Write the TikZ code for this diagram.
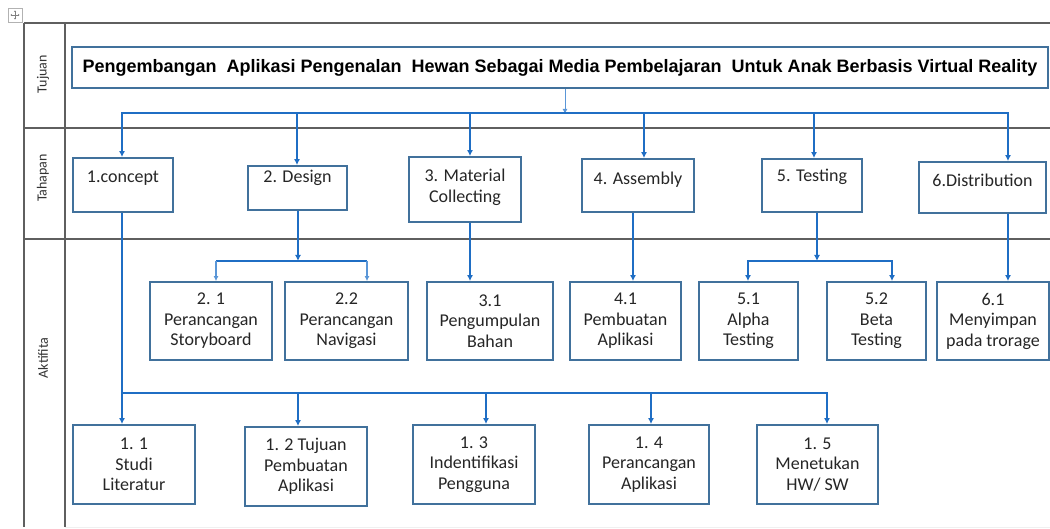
\documentclass[tikz,border=0pt]{standalone}
\usepackage{fontspec}
\setmainfont{Carlito}
\newfontfamily\titlefont{Liberation Sans}
\usetikzlibrary{arrows.meta}
\definecolor{boxblue}{RGB}{65,113,156}
\definecolor{linkblue}{RGB}{31,110,196}
\definecolor{lightlink}{RGB}{90,150,215}
\definecolor{framegray}{RGB}{95,95,95}
\begin{document}
\begin{tikzpicture}[x=1pt,y=-1pt,
  box/.style={draw=boxblue, line width=1.8pt, fill=white, inner sep=0pt},
  boxtext/.style={font=\fontsize{18}{20.5}\selectfont, align=center, text=black!85, inner sep=0pt},
  conn/.style={draw=linkblue, line width=2pt},
  thinconn/.style={draw=lightlink, line width=1.3pt},
  tip/.tip={Latex[length=6pt,width=6pt]},
  smalltip/.tip={Latex[length=5pt,width=5pt]},
  arr/.style={conn, -tip},
  framel/.style={draw=framegray, line width=1.4pt},
  rowlabel/.style={font=\fontsize{14}{15}\selectfont, rotate=90, text=black!80, inner sep=0pt}]
\useasboundingbox (0,0) rectangle (1050,529);
\fill[white] (0,0) rectangle (1050,529);

% table handle
\draw[gray!60, line width=0.6pt] (8,8) rectangle (22,22);
\draw[gray, line width=0.6pt, <->, >={Stealth[length=1.5pt,width=2pt]}] (10.5,15) -- (19.5,15);
\draw[gray, line width=0.6pt, <->, >={Stealth[length=1.5pt,width=2pt]}] (15,10.5) -- (15,19.5);

% frame
\draw[framel] (24,23) -- (1050,23);
\draw[framel] (24,128) -- (1050,128);
\draw[framel] (24,239) -- (1050,239);
\draw[framel] (24,23) -- (24,527);
\draw[framel] (65,23) -- (65,527);
\draw[gray!12, line width=1pt] (65,527) -- (1050,527);

% row labels
\node[rowlabel] (lt) at (43,74) {Tujuan};
\node[rowlabel] (lh) at (43,178) {Tahapan};
\node[rowlabel] (la) at (43,358) {Aktifita};

% title
\node[box, minimum width=976pt, minimum height=41pt,
      font=\titlefont\bfseries\fontsize{18}{20}\selectfont] (title) at (560,67.5)
  {Pengembangan\ \ Aplikasi Pengenalan\ \ Hewan Sebagai Media Pembelajaran\ \ Untuk Anak Berbasis Virtual Reality};

% row 2 boxes
\node[box, minimum width=100pt, minimum height=54pt] (c1) at (123,185) {};
\node[boxtext] (c1t) at (123,178) {1.concept};
\node[box, minimum width=99pt, minimum height=44pt] (c2) at (297.5,188) {};
\node[boxtext] (c2t) at (297.5,178) {2. Design};
\node[box, minimum width=112pt, minimum height=65pt] (c3) at (465,189.5) {};
\node[boxtext] (c3t) at (465,187.5) {3. Material\\Collecting};
\node[box, minimum width=112pt, minimum height=53pt] (c4) at (638,185.5) {};
\node[boxtext] (c4t) at (638,180) {4. Assembly};
\node[box, minimum width=100pt, minimum height=53pt] (c5) at (812,185.5) {};
\node[boxtext] (c5t) at (812,177) {5. Testing};
\node[box, minimum width=127pt, minimum height=51pt] (c6) at (982.5,187.5) {};
\node[boxtext] (c6t) at (982.5,180) {6.Distribution};

% row 3 boxes
\node[box, boxtext, minimum width=122pt, minimum height=78pt] (a21) at (211,321) {2. 1\\Perancangan\\Storyboard};
\node[box, boxtext, minimum width=123pt, minimum height=78pt] (a22) at (346.5,321) {2.2\\Perancangan\\Navigasi};
\node[box, boxtext, minimum width=126pt, minimum height=78pt] (a31) at (490,321) {3.1\\Pengumpulan\\Bahan};
\node[box, boxtext, minimum width=111pt, minimum height=78pt] (a41) at (625.5,321) {4.1\\Pembuatan\\Aplikasi};
\node[box, boxtext, minimum width=99pt, minimum height=78pt] (a51) at (748.5,321) {5.1\\Alpha\\Testing};
\node[box, boxtext, minimum width=99pt, minimum height=78pt] (a52) at (876.5,321) {5.2\\Beta\\Testing};
\node[box, boxtext, minimum width=112pt, minimum height=78pt] (a61) at (993,321) {6.1\\Menyimpan\\pada trorage};

% row 4 boxes
\node[box, boxtext, minimum width=122pt, minimum height=79pt] (a11) at (134,464.5) {1. 1\\Studi\\Literatur};
\node[box, boxtext, minimum width=122pt, minimum height=79pt] (a12) at (306,466.5) {1. 2 Tujuan\\Pembuatan\\Aplikasi};
\node[box, boxtext, minimum width=122pt, minimum height=79pt] (a13) at (474,464.5) {1. 3\\Indentifikasi\\Pengguna};
\node[box, boxtext, minimum width=120pt, minimum height=79pt] (a14) at (649,464.5) {1. 4\\Perancangan\\Aplikasi};
\node[box, boxtext, minimum width=121pt, minimum height=79pt] (a15) at (817.5,464.5) {1. 5\\Menetukan\\HW/ SW};

% title to stages
\coordinate (tin) at (565,113);
\coordinate (t1) at (122,113);
\coordinate (t2) at (297,113);
\coordinate (t3) at (470,113);
\coordinate (t4) at (644,113);
\coordinate (t5) at (814,113);
\coordinate (t6) at (1008,113);
\draw[thinconn, line width=1pt, -smalltip] (tin |- title.south) -- ([yshift=-1pt]tin);
\draw[conn, tip-tip] (t1 |- c1.north) -- (t1) -- (t6) -- (t6 |- c6.north);
\draw[arr] (t2) -- (t2 |- c2.north);
\draw[arr] (t3) -- (t3 |- c3.north);
\draw[arr] (t4) -- (t4 |- c4.north);
\draw[arr] (t5) -- (t5 |- c5.north);

% concept to activities
\coordinate (u1) at (122,393);
\coordinate (u2) at (298,393);
\coordinate (u3) at (486,393);
\coordinate (u4) at (651,393);
\coordinate (u5) at (827,393);
\draw[arr] (u1 |- c1.south) -- (u1 |- a11.north);
\draw[conn, -tip] (u1) -- (u5) -- (u5 |- a15.north);
\draw[arr] (u2) -- (u2 |- a12.north);
\draw[arr] (u3) -- (u3 |- a13.north);
\draw[arr] (u4) -- (u4 |- a14.north);

% design
\coordinate (d0) at (298,261);
\coordinate (d1) at (216,261);
\coordinate (d2) at (367,261);
\draw[arr] (d0 |- c2.south) -- (d0);
\draw[conn] (d1) -- (d2);
\draw[thinconn, -smalltip] (d1) -- (d1 |- a21.north);
\draw[thinconn, -smalltip] (d2) -- (d2 |- a22.north);

% material, assembly, distribution
\coordinate (m3) at (470,250);
\coordinate (m4) at (633,250);
\draw[arr] (m3 |- c3.south) -- (m3 |- a31.north);
\draw[arr] (m4 |- c4.south) -- (m4 |- a41.north);
\draw[arr] (t6 |- c6.south) -- (t6 |- a61.north);

% testing
\coordinate (e0) at (817,261);
\coordinate (e1) at (748,261);
\coordinate (e2) at (892,261);
\draw[arr] (e0 |- c5.south) -- (e0);
\draw[conn, tip-tip] (e1 |- a51.north) -- (e1) -- (e2) -- (e2 |- a52.north);
\end{tikzpicture}
\end{document}
